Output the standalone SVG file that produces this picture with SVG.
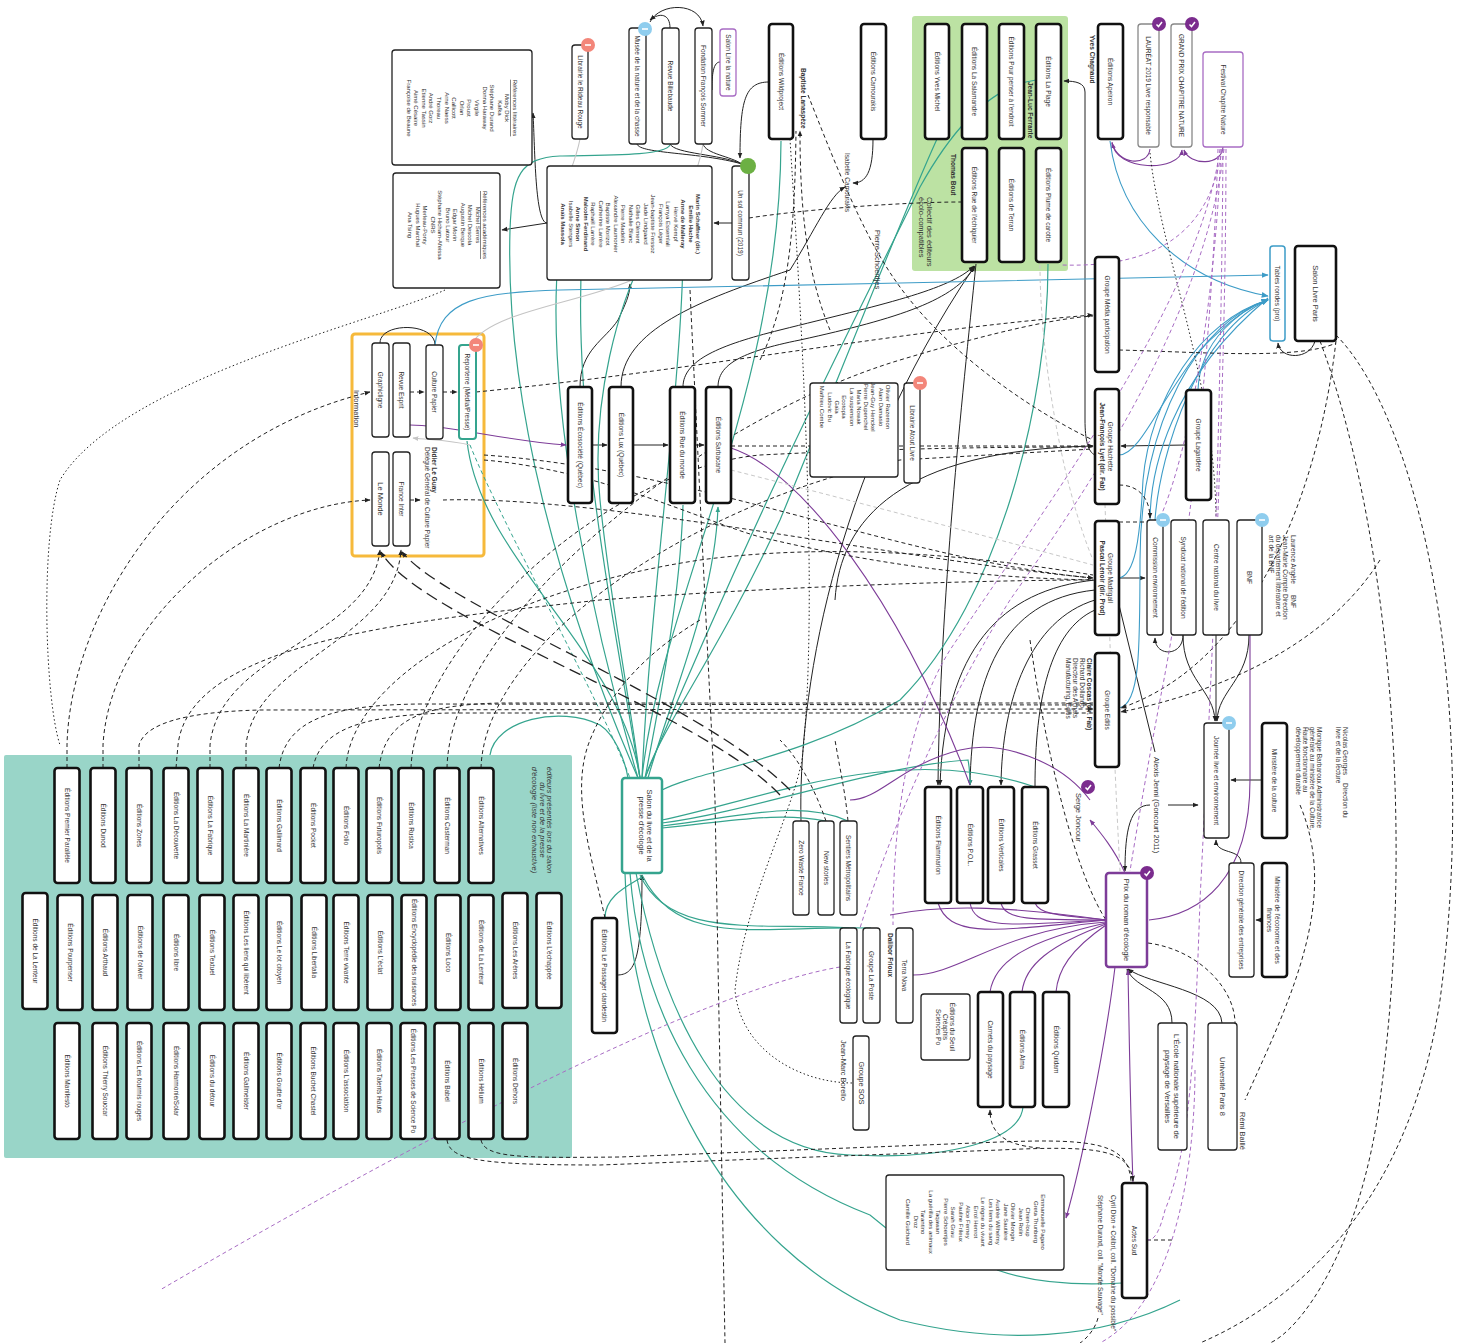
<svg xmlns="http://www.w3.org/2000/svg" xmlns:xlink="http://www.w3.org/1999/xlink" width="1478" height="1343" viewBox="0 0 1478 1343">
<style>
.n{fill:#fff;stroke:#222;stroke-width:1.3}
.k{fill:#fff;stroke:#111;stroke-width:2.6}
.g{fill:#fff;stroke:#888;stroke-width:1.3}
text{font-family:"Liberation Sans",Arial,sans-serif;font-size:6.5px;fill:#333;text-anchor:middle;dominant-baseline:central}
.s{text-anchor:start}
.b{font-weight:bold}
.sm{font-size:6px}
.m{font-size:7.5px}
.c{fill:none;stroke:#222;stroke-width:1}
.d{fill:none;stroke:#222;stroke-width:1;stroke-dasharray:4 3}
.o{fill:none;stroke:#222;stroke-width:1;stroke-dasharray:1.5 2.5}
.L{fill:none;stroke:#222;stroke-width:1.3;stroke-dasharray:12 6}
.t{fill:none;stroke:#35a48e;stroke-width:1.2}
.td{fill:none;stroke:#35a48e;stroke-width:1;stroke-dasharray:4 3}
.p{fill:none;stroke:#7d3c98;stroke-width:1.1}
.pd{fill:none;stroke:#a86cc4;stroke-width:1;stroke-dasharray:4 3}
.bl{fill:none;stroke:#3d9cc7;stroke-width:1.1}
.gr{fill:none;stroke:#c4c4c4;stroke-width:1.1}
.grd{fill:none;stroke:#c8c8c8;stroke-width:1;stroke-dasharray:4 3}
</style>
<defs>
<marker id="ab" viewBox="0 0 10 10" refX="9" refY="5" markerWidth="6" markerHeight="6" markerUnits="userSpaceOnUse" orient="auto"><path d="M0,1 L10,5 L0,9 z" fill="#222"/></marker>
<marker id="at" viewBox="0 0 10 10" refX="9" refY="5" markerWidth="6" markerHeight="6" markerUnits="userSpaceOnUse" orient="auto"><path d="M0,1 L10,5 L0,9 z" fill="#35a48e"/></marker>
<marker id="ap" viewBox="0 0 10 10" refX="9" refY="5" markerWidth="6" markerHeight="6" markerUnits="userSpaceOnUse" orient="auto"><path d="M0,1 L10,5 L0,9 z" fill="#7d3c98"/></marker>
<marker id="abl" viewBox="0 0 10 10" refX="9" refY="5" markerWidth="7" markerHeight="7" markerUnits="userSpaceOnUse" orient="auto"><path d="M0,1 L10,5 L0,9 z" fill="#3d9cc7"/></marker>
<marker id="ag" viewBox="0 0 10 10" refX="9" refY="5" markerWidth="6" markerHeight="6" markerUnits="userSpaceOnUse" orient="auto"><path d="M0,1 L10,5 L0,9 z" fill="#c4c4c4"/></marker>
<g id="bRed"><circle r="7" fill="#f3867a"/><rect x="-3" y="-0.8" width="6" height="1.6" fill="#fff"/></g>
<g id="bBlue"><circle r="7" fill="#8fcdee"/><rect x="-3" y="-0.8" width="6" height="1.6" fill="#fff"/></g>
<g id="bPur"><circle r="7" fill="#7b2c8e"/><path d="M-2.5,0.5 L-0.5,2.5 L3,-2" fill="none" stroke="#fff" stroke-width="1.5"/></g>
</defs>
<rect width="1478" height="1343" fill="#fff"/>

<!-- backgrounds -->
<rect id="bg-collectif" x="912" y="16" width="156" height="255" rx="3" fill="#bce2a3"/>
<rect id="bg-salon" x="4" y="755" width="568" height="403" rx="2" fill="#99d5c8"/>
<rect id="bg-info" x="352" y="334" width="132" height="222" rx="3" fill="none" stroke="#f6b93b" stroke-width="3"/>

<g id="connectors">
<!-- black solid -->
<path class="c" d="M769,82 C745,82 740,100 740,158" marker-end="url(#ab)"/>
<path class="c" d="M637,144 C640,154 700,152 742,164"/>
<path class="c" d="M670,144 C675,154 720,154 742,164"/>
<path class="c" d="M703,144 C706,154 730,156 742,164"/>
<path class="c" d="M650,22 C660,2 700,2 703,26" marker-end="url(#ab)"/>
<path class="c" d="M670,28 C670,14 660,12 650,20" marker-end="url(#ab)"/>
<path class="c" d="M720,62 C712,62 712,80 712,90"/>
<path class="c" d="M732,223 L714,223" marker-end="url(#ab)"/>
<path class="c" d="M547,223 C535,223 535,150 533,113" marker-end="url(#ab)"/>
<path class="c" d="M547,223 L502,230" marker-end="url(#ab)"/>
<path class="c" d="M873,139 C873,172 866,183 853,183" marker-end="url(#ab)"/>
<path class="c" d="M380,343 C380,322 435,322 435,345"/>
<path class="c" d="M580,387 C580,350 605,340 618,320 C625,305 630,295 630,284" marker-end="url(#ab)"/>
<path class="c" d="M621,387 C621,330 700,300 790,270 C815,230 830,195 845,187" marker-end="url(#ab)"/>
<path class="c" d="M683,387 C683,360 720,345 780,330 C880,305 950,290 974,266" marker-end="url(#ab)"/>
<path class="c" d="M718,387 C718,365 740,352 800,340 C900,318 955,300 975,266" marker-end="url(#ab)"/>
<path class="c" d="M801,821 C798,700 830,480 974,267" marker-end="url(#ab)"/>
<path class="c" d="M976,264 C962,400 940,600 938,785" marker-end="url(#ab)"/>
<path class="c" d="M1095,580 C1000,590 945,650 940,785" marker-end="url(#ab)"/>
<path class="c" d="M1095,590 C1000,600 972,680 970,785" marker-end="url(#ab)"/>
<path class="c" d="M1095,600 C1030,620 1002,700 1001,785" marker-end="url(#ab)"/>
<path class="c" d="M1095,610 C1050,630 1035,700 1035,787"/>
<path class="c" d="M835,600 C840,520 900,450 1093,446" marker-end="url(#ab)"/>
<path class="c" d="M1095,455 C1088,452 1085,440 1085,420 L1085,92 C1085,83 1076,81 1064,81" marker-end="url(#ab)"/>
<path class="c" d="M1186,445 L1121,446" marker-end="url(#ab)"/>
<path class="c" d="M1119,578 L1145,578" marker-end="url(#ab)"/>
<path class="c" d="M1183,635 C1183,657 1155,657 1155,638" marker-end="url(#ab)"/>
<path class="c" d="M1183,635 C1183,680 1214,690 1215,721" marker-end="url(#ab)"/>
<path class="c" d="M1216,635 L1216,721" marker-end="url(#ab)"/>
<path class="c" d="M1249,635 C1249,680 1218,690 1217,721" marker-end="url(#ab)"/>
<path class="c" d="M1262,780 L1231,780" marker-end="url(#ab)"/>
<path class="c" d="M1241,863 C1241,848 1216,855 1216,840" marker-end="url(#ab)"/>
<path class="c" d="M1262,920 L1256,920" marker-end="url(#ab)"/>
<path class="c" d="M1119,605 L1155,752"/>
<path class="c" d="M1150,805 C1130,805 1125,830 1125,871" marker-end="url(#ab)"/>
<path class="c" d="M1168,805 L1198,805" marker-end="url(#ab)"/>
<path class="c" d="M1172,1023 C1172,990 1135,990 1127,969" marker-end="url(#ab)"/>
<path class="c" d="M1222,1023 C1220,990 1150,985 1128,969" marker-end="url(#ab)"/>
<path class="c" d="M1315,341 C1310,360 1280,360 1278,343" marker-end="url(#ab)"/>
<path class="c" d="M617,975 C635,975 642,960 642,875" marker-end="url(#ab)"/>
<path class="c" d="M593,445 L607,445" marker-end="url(#ab)"/>
<path class="c" d="M633,445 L668,445" marker-end="url(#ab)"/>
<path class="c" d="M695,445 L704,445" marker-end="url(#ab)"/>
<!-- teal -->
<path class="t" d="M640,778 C620,650 480,560 467,441"/>
<path class="t" d="M642,778 C660,600 780,400 781,141"/>
<path class="t" d="M670,145 C665,155 620,155 560,156 C520,158 512,175 510,230 C505,400 560,600 638,778"/>
<path class="t" d="M683,260 C680,400 650,600 642,778"/>
<path class="t" d="M583,240 C570,400 610,600 640,778"/>
<path class="t" d="M560,240 C540,400 600,650 638,778"/>
<path class="t" d="M647,250 C620,300 590,400 600,500 C610,600 630,700 640,778"/>
<path class="t" d="M1036,80 C1000,85 960,115 920,187 C870,290 760,500 645,778"/>
<path class="t" d="M937,139 C900,220 830,400 780,520 C720,650 660,730 645,778"/>
<path class="t" d="M1048,264 C1048,400 1000,600 900,700 C800,760 700,770 662,790"/>
<path class="t" d="M683,505 C680,600 660,700 645,778"/>
<path class="t" d="M648,778 C670,700 715,600 718,507" marker-end="url(#at)"/>
<path class="t" d="M662,823 C750,812 880,765 968,760 C970,770 970,778 970,785" marker-end="url(#at)"/>
<path class="t" d="M662,826 C750,815 800,800 848,821"/>
<path class="t" d="M662,828 C740,820 780,812 826,821"/>
<path class="t" d="M662,820 C760,800 900,740 1035,787"/>
<path class="t" d="M642,875 C680,950 760,925 871,928"/>
<path class="t" d="M640,875 C670,940 760,922 849,928"/>
<path class="t" d="M605,918 C605,895 630,885 642,877"/>
<path class="t" d="M630,873 C640,1000 700,1150 870,1215 L886,1228"/>
<path class="t" d="M1023,1107 C1020,1140 950,1160 850,1155 C720,1150 660,1000 636,873"/>
<path class="t" d="M997,1270 C1040,1285 1090,1285 1122,1283"/>
<path class="t" d="M625,873 C630,1050 720,1250 900,1320 C1000,1345 1100,1340 1180,1300"/>
<path class="t" d="M490,755 C495,720 560,705 600,725 C615,735 625,760 628,778" stroke-width="3.2"/>
<path class="td" d="M470,445 C500,520 600,700 630,778"/>
<!-- purple -->
<path class="p" d="M410,425 C450,425 500,440 566,445" marker-end="url(#ap)"/>
<path class="p" d="M731,448 C800,470 900,600 970,785"/>
<path class="p" d="M1106,920 C1000,930 950,940 938,903"/>
<path class="p" d="M1106,920 C1010,925 975,930 970,903"/>
<path class="p" d="M1106,920 C1030,920 1005,920 1001,903"/>
<path class="p" d="M1106,920 C1060,915 1040,915 1035,903"/>
<path class="p" d="M1106,920 C1000,905 940,905 890,915"/>
<path class="p" d="M1106,922 C1000,930 960,975 913,975"/>
<path class="p" d="M1106,923 C1030,940 995,960 990,992"/>
<path class="p" d="M1106,924 C1050,945 1025,965 1022,992"/>
<path class="p" d="M1106,925 C1070,950 1058,970 1056,992"/>
<path class="p" d="M1125,873 C1115,850 1100,832 1090,820" marker-end="url(#ap)"/>
<path class="p" d="M1115,967 C1105,1050 1080,1170 1066,1218" marker-end="url(#ap)"/>
<path class="p" d="M1133,1183 C1130,1100 1129,1020 1128,970" marker-end="url(#ap)"/>
<path class="p" d="M1250,635 L1250,780 C1250,880 1200,915 1149,920"/>
<path class="p" d="M1150,149 C1148,167 1118,165 1112,143" marker-end="url(#ap)"/>
<path class="p" d="M1112,142 C1115,172 1180,172 1182,150" marker-end="url(#ap)"/>
<path class="p" d="M1223,147 C1222,166 1190,166 1184,150" marker-end="url(#ap)"/>
<path class="p" d="M1090,800 C1060,760 1000,740 960,750 C900,765 880,800 850,800"/>
<!-- blue -->
<path class="bl" d="M435,345 C440,300 480,292 560,290 L900,283 L1268,275" marker-end="url(#abl)"/>
<path class="bl" d="M1110,141 C1120,220 1180,280 1268,296" marker-end="url(#abl)"/>
<path class="bl" d="M1119,708 C1140,705 1140,650 1140,560 C1140,420 1200,320 1268,300" marker-end="url(#abl)"/>
<path class="bl" d="M1119,578 C1135,575 1140,540 1143,480 C1150,400 1200,320 1268,300" marker-end="url(#abl)"/>
<path class="bl" d="M1119,455 C1140,455 1160,400 1200,350 C1230,320 1250,305 1268,300" marker-end="url(#abl)"/>
<path class="bl" d="M1198,390 C1200,340 1240,310 1268,300" marker-end="url(#abl)"/>
<path class="bl" d="M1155,520 C1160,450 1200,330 1268,300" marker-end="url(#abl)"/>
<path class="bl" d="M1150,522 C1150,470 1170,380 1268,298"/>
<!-- grey -->
<path class="gr" d="M580,139 C575,165 565,180 563,195" marker-end="url(#ag)"/>
<path class="gr" d="M703,144 C700,165 692,180 689,193" marker-end="url(#ag)"/>
<path class="gr" d="M673,247 C650,300 500,300 472,343"/>
<path class="gr" d="M470,445 C450,440 430,440 413,438" marker-end="url(#ag)"/>
<path class="grd" d="M731,470 C850,500 1000,540 1093,565"/>
<path class="grd" d="M1105,504 C1110,650 1115,780 1120,871"/>
<path class="grd" d="M1040,265 C1040,350 1060,480 1093,560"/>
<!-- dashed black -->
<path class="d" d="M731,446 L1093,446" marker-end="url(#ab)"/>
<path class="d" d="M476,392 C700,370 900,330 1093,315" marker-end="url(#ab)"/>
<path class="d" d="M410,392 L424,392" marker-end="url(#ab)"/>
<path class="d" d="M443,392 L457,392" marker-end="url(#ab)"/>
<path class="d" d="M410,500 L420,500" marker-end="url(#ab)"/>
<path class="d" d="M443,500 C600,495 900,560 1093,578" marker-end="url(#ab)"/>
<path class="d" d="M484,455 C700,470 900,560 1093,578"/>
<path class="d" d="M484,460 C600,470 700,520 760,537 C900,570 1000,578 1093,580"/>
<path class="d" d="M67,768 L67,745 C70,620 170,440 370,392" marker-end="url(#ab)"/>
<path class="d" d="M103,768 L103,745 C110,620 250,505 370,500" marker-end="url(#ab)"/>
<path class="d" d="M139,768 L139,745 C145,725 180,712 260,710 L1093,709" marker-end="url(#ab)"/>
<path class="d" d="M176,768 L178,745 C190,640 420,620 600,600 C800,585 1000,580 1093,580"/>
<path class="d" d="M210,768 L210,745 C220,650 370,640 380,550" marker-end="url(#ab)"/>
<path class="d" d="M246,768 L246,745 C255,660 395,640 401,550" marker-end="url(#ab)"/>
<path class="d" d="M279,768 C285,720 330,705 420,704 L1093,705"/>
<path class="d" d="M313,768 C320,730 360,715 450,713 L1093,713"/>
<path class="d" d="M346,768 C350,680 500,590 700,560 C850,540 1000,560 1093,575"/>
<path class="d" d="M379,768 C385,720 420,705 500,703 L1093,703"/>
<path class="d" d="M411,768 C415,650 600,470 760,455 C900,448 1000,447 1093,447"/>
<path class="d" d="M447,768 C450,620 700,420 900,360 C1000,330 1060,318 1093,316"/>
<path class="d" d="M481,768 C485,640 700,500 900,460 L1093,449"/>
<path class="d" d="M749,218 C800,210 900,202 961,202"/>
<path class="d" d="M830,330 C805,270 800,200 800,131" marker-end="url(#ab)"/>
<path class="d" d="M760,360 C790,300 795,220 796,131"/>
<path class="d" d="M808,95 C830,150 860,230 895,280 C950,360 1050,420 1093,440"/>
<path class="d" d="M1336,335 C1420,420 1480,700 1440,1000 C1410,1200 1300,1300 1200,1343"/>
<path class="d" d="M1320,341 C1380,500 1420,800 1380,1100 C1360,1250 1300,1330 1270,1343"/>
<path class="d" d="M1336,341 C1320,480 1260,660 1121,708" marker-end="url(#ab)"/>
<path class="d" d="M1380,560 C1330,640 1230,690 1121,712" marker-end="url(#ab)"/>
<path class="d" d="M1119,350 C1200,352 1300,360 1336,343"/>
<path class="d" d="M1119,485 C1140,485 1150,500 1150,518" marker-end="url(#ab)"/>
<path class="d" d="M1119,522 L1147,522"/>
<path class="d" d="M1300,805 C1340,900 1290,1000 1245,1100"/>
<path class="d" d="M1148,943 C1200,950 1235,990 1235,1023"/>
<path class="d" d="M1030,640 C1050,780 1080,880 1106,920"/>
<path class="d" d="M447,1140 C450,1160 480,1165 600,1165 L1000,1150 C1100,1145 1130,1150 1133,1181" marker-end="url(#ab)"/>
<path class="d" d="M481,1140 C485,1158 520,1158 620,1157 L1000,1142 C1100,1138 1128,1145 1131,1181"/>
<path class="d" d="M1040,1148 C1000,1145 990,1130 990,1110" marker-end="url(#ab)"/>
<path class="d" d="M1147,1240 L1175,1240"/>
<path class="d" d="M1098,1318 C1095,1330 1085,1340 1080,1343"/>
<path class="d" d="M605,918 C590,850 570,790 590,740 C610,690 650,650 700,620"/>
<path class="d" d="M690,290 C700,500 710,700 715,800 L725,1343"/>
<path class="d" d="M826,821 C815,790 800,760 780,740"/>
<path class="d" d="M848,821 C845,790 840,770 835,740"/>
<path class="o" d="M790,139 C800,300 820,600 802,760 C790,820 745,900 735,990 C740,1050 800,1083 853,1083"/>
<path class="o" d="M1150,153 C1160,250 1215,380 1216,518"/>
<path class="o" d="M445,290 C380,320 120,380 60,480 C40,540 45,700 60,745"/>
<path class="L" d="M790,790 C700,700 450,610 402,552" marker-end="url(#ab)"/>
<path class="L" d="M780,795 C700,710 420,620 381,552" marker-end="url(#ab)"/>
<!-- purple dashed -->
<path class="pd" d="M1222,149 C1210,230 1160,268 1062,265"/>
<path class="pd" d="M1220,149 C1200,300 1050,500 950,650 C900,730 893,850 893,925"/>
<path class="pd" d="M1224,149 C1205,320 1080,500 1010,600 C960,680 900,800 860,928"/>
<path class="pd" d="M840,967 C700,990 400,1150 160,1290"/>
<path class="pd" d="M1226,149 C1226,400 1210,700 1200,900 C1195,1050 1190,1150 1165,1210 C1160,1230 1155,1240 1148,1240"/>
<path class="pd" d="M1218,149 C1210,400 1180,600 1160,700 C1145,780 1135,840 1130,871"/>
<path class="pd" d="M1221,149 C1215,300 1190,450 1160,518"/>
<path class="pd" d="M1223,149 C1222,300 1218,450 1216,519"/>
<path class="pd" d="M1195,1070 C1195,1150 1180,1300 1100,1343"/>
</g>

<!-- top nodes -->
<g id="ref-lit"><rect class="n" x="392" y="50" width="140" height="115" rx="3"/>
<text class="sm" transform="translate(515 108) rotate(90)"><tspan x="0" dy="0" text-decoration="underline">Références littéraires</tspan><tspan x="0" dy="7.6">Moby Dick</tspan><tspan x="0" dy="7.6">Kafka</tspan><tspan x="0" dy="7.6">Stéphane Durand</tspan><tspan x="0" dy="7.6">Donna Haraway</tspan><tspan x="0" dy="7.6">Virgile</tspan><tspan x="0" dy="7.6">Proust</tspan><tspan x="0" dy="7.6">Orlan</tspan><tspan x="0" dy="7.6">Callicott</tspan><tspan x="0" dy="7.6">Arne Naess</tspan><tspan x="0" dy="7.6">Thoreau</tspan><tspan x="0" dy="7.6">André Gorz</tspan><tspan x="0" dy="7.6">Etienne Tassin</tspan><tspan x="0" dy="7.6">Aimé Césaire</tspan><tspan x="0" dy="7.6">Françoise de Beaune</tspan></text></g>
<g id="ref-aca"><rect class="n" x="393" y="173" width="107" height="115" rx="3"/>
<text class="sm" transform="translate(485 225) rotate(90)"><tspan x="0" dy="0" text-decoration="underline">Références académiques</tspan><tspan x="0" dy="7.5">Michel Serres</tspan><tspan x="0" dy="7.5">Michel Descola</tspan><tspan x="0" dy="7.5">Augustin Berque</tspan><tspan x="0" dy="7.5">Edgar Morin</tspan><tspan x="0" dy="7.5">Bruno Latour</tspan><tspan x="0" dy="7.5">Stéphane Hicham-Afeissa</tspan><tspan x="0" dy="7.5">CNRS</tspan><tspan x="0" dy="7.5">Merleau-Ponty</tspan><tspan x="0" dy="7.5">Hugues Marchal</tspan><tspan x="0" dy="7.5">Ana Tsing</tspan></text></g>
<g id="rideau"><rect class="n" x="572" y="45" width="16" height="94" rx="3"/><text transform="translate(580 92) rotate(90)">Librairie le Rideau Rouge</text><use xlink:href="#bRed" x="588" y="45"/></g>
<g id="musee"><rect class="n" x="629" y="28" width="17" height="116" rx="3"/><text transform="translate(637.5 86) rotate(90)">Musée de la nature et de la chasse</text><use xlink:href="#bBlue" x="645" y="29"/></g>
<g id="billebaude"><rect class="n" x="662" y="28" width="17" height="116" rx="3"/><text transform="translate(670.5 86) rotate(90)">Revue Billebaude</text></g>
<g id="fondation"><rect class="n" x="695" y="28" width="17" height="116" rx="3"/><text transform="translate(703.5 86) rotate(90)">Fondation François Sommer</text></g>
<g id="salon-lire"><rect x="720" y="29" width="16" height="67" rx="3" fill="#fff" stroke="#a86cc4" stroke-width="1.3"/><text transform="translate(728 62.5) rotate(90)">Salon Lire la nature</text></g>
<g id="wildproject"><rect class="k" x="769" y="24" width="24" height="115" rx="3"/><text transform="translate(781 81.5) rotate(90)">Éditions Wildproject</text></g>
<g id="unsol"><rect class="n" x="732" y="166" width="17" height="114" rx="3"/><text transform="translate(740.5 223) rotate(90)">Un sol commun (2019)</text><circle cx="748" cy="166" r="8" fill="#6cb043"/></g>
<g id="auteurs-sol"><rect class="n" x="547" y="166" width="165" height="114" rx="3"/>
<text class="sm" transform="translate(698 224) rotate(90)"><tspan x="0" dy="0" class="b">Marin Schaffner (dir.)</tspan><tspan x="0" dy="7.5" class="b">Emilie Hache</tspan><tspan x="0" dy="7.5" class="b">Anne de Malleray</tspan><tspan x="0" dy="7.5">Hervé Kempf</tspan><tspan x="0" dy="7.5">Lamya Essemlali</tspan><tspan x="0" dy="7.5">François Léger</tspan><tspan x="0" dy="7.5">Jean-baptiste Fressoz</tspan><tspan x="0" dy="7.5">Jade Lindgaard</tspan><tspan x="0" dy="7.5">Gilles Clément</tspan><tspan x="0" dy="7.5">Nathalie Blanc</tspan><tspan x="0" dy="7.5">Pierre Madelin</tspan><tspan x="0" dy="7.5">Alexandre Laumonier</tspan><tspan x="0" dy="7.5">Baptiste Morizot</tspan><tspan x="0" dy="7.5">Catherine Larrère</tspan><tspan x="0" dy="7.5">Raphaël Larrère</tspan><tspan x="0" dy="7.5" class="b">Malcolm Ferdinand</tspan><tspan x="0" dy="7.5" class="b">Anne Simon</tspan><tspan x="0" dy="7.5">Isabelle Stengers</tspan><tspan x="0" dy="7.5" class="b">Anaïs Massola</tspan></text></g>
<g id="camourakis"><rect class="k" x="861" y="24" width="25" height="115" rx="3"/><text transform="translate(873.5 81.5) rotate(90)">Éditions Camourakis</text></g>
<g id="yves-michel"><rect class="k" x="925" y="24" width="24" height="115" rx="3"/><text transform="translate(937 81.5) rotate(90)">Éditions Yves Michel</text></g>
<g id="salamandre"><rect class="k" x="962" y="24" width="25" height="115" rx="3"/><text transform="translate(974.5 81.5) rotate(90)">Éditions La Salamandre</text></g>
<g id="pour-penser"><rect class="k" x="999" y="24" width="25" height="115" rx="3"/><text transform="translate(1011.5 81.5) rotate(90)">Éditions Pour penser à l'endroit</text></g>
<g id="la-plage"><rect class="k" x="1036" y="24" width="25" height="115" rx="3"/><text transform="translate(1048.5 81.5) rotate(90)">Éditions La Plage</text></g>
<g id="rue-echiquier"><rect class="k" x="962" y="148" width="25" height="114" rx="3"/><text transform="translate(974.5 205) rotate(90)">Éditions Rue de l'échiquier</text></g>
<g id="terran"><rect class="k" x="999" y="148" width="25" height="114" rx="3"/><text transform="translate(1011.5 205) rotate(90)">Éditions de Terran</text></g>
<g id="plume"><rect class="k" x="1036" y="148" width="25" height="114" rx="3"/><text transform="translate(1048.5 205) rotate(90)">Éditions Plume de carotte</text></g>
<g id="apeiron"><rect class="k" x="1098" y="24" width="25" height="115" rx="3"/><text transform="translate(1110.5 81.5) rotate(90)">Éditions Apeiron</text></g>
<g id="laureat"><rect class="g" x="1138" y="24" width="21" height="123" rx="3"/><text transform="translate(1148.5 85.5) rotate(90)">LAURÉAT 2019 Livre responsable</text><use xlink:href="#bPur" x="1159" y="24"/></g>
<g id="grand-prix"><rect class="g" x="1171" y="24" width="21" height="123" rx="3"/><text transform="translate(1181.5 85.5) rotate(90)">GRAND PRIX CHAPITRE NATURE</text><use xlink:href="#bPur" x="1192" y="24"/></g>
<g id="festival"><rect x="1203" y="52" width="40" height="95" rx="3" fill="#fff" stroke="#a86cc4" stroke-width="1.3"/><text transform="translate(1223 99.5) rotate(90)">Festival Chapitre Nature</text></g>
<g id="media-part"><rect class="k" x="1095" y="257" width="24" height="115" rx="3"/><text transform="translate(1107 314.5) rotate(90)">Groupe Média participation</text></g>
<g id="tables-rondes"><rect x="1270" y="246" width="15" height="95" rx="3" fill="#fff" stroke="#3d9cc7" stroke-width="1.5"/><text transform="translate(1277.5 293.5) rotate(90)">Tables rondes (pro)</text></g>
<g id="salon-paris"><rect class="k" x="1295" y="246" width="41" height="95" rx="3"/><text class="m" transform="translate(1315.5 293.5) rotate(90)">Salon Livre Paris</text></g>

<!-- middle nodes -->
<g id="graphicligne"><rect class="n" x="372" y="343" width="17" height="94" rx="3"/><text transform="translate(380.5 390) rotate(90)">Graphicligne</text></g>
<g id="esprit"><rect class="n" x="393" y="343" width="17" height="94" rx="3"/><text transform="translate(401.5 390) rotate(90)">Revue Esprit</text></g>
<g id="culture-papier"><rect class="n" x="426" y="345" width="17" height="94" rx="3"/><text transform="translate(434.5 392) rotate(90)">Culture Papier</text></g>
<g id="reporterre"><rect x="459" y="345" width="17" height="94" rx="3" fill="#fff" stroke="#35a48e" stroke-width="2"/><text transform="translate(467.5 392) rotate(90)">Reporterre (Média/Presse)</text><use xlink:href="#bRed" x="476" y="345"/></g>
<g id="le-monde"><rect class="n" x="372" y="452" width="17" height="94" rx="3"/><text class="m" transform="translate(380.5 499) rotate(90)">Le Monde</text></g>
<g id="france-inter"><rect class="n" x="393" y="452" width="17" height="94" rx="3"/><text transform="translate(401.5 499) rotate(90)">France Inter</text></g>
<g id="ecosociete"><rect class="k" x="568" y="387" width="24" height="116" rx="3"/><text transform="translate(580 445) rotate(90)">Éditions Écosociété (Québec)</text></g>
<g id="lux"><rect class="k" x="609" y="387" width="24" height="116" rx="3"/><text transform="translate(621 445) rotate(90)">Éditions Lux (Québec)</text></g>
<g id="rue-du-monde"><rect class="k" x="670" y="387" width="25" height="116" rx="3"/><text transform="translate(682.5 445) rotate(90)">Éditions Rue du monde</text></g>
<g id="sarbacane"><rect class="k" x="706" y="387" width="25" height="116" rx="3"/><text transform="translate(718.5 445) rotate(90)">Éditions Sarbacane</text></g>
<g id="auteurs-atout"><rect class="n" x="810" y="383" width="88" height="94" rx="3"/>
<text class="sm" transform="translate(888 407) rotate(90)"><tspan x="0" dy="0">Olivier Razemon</tspan><tspan x="0" dy="7.3">Alain Damasio</tspan><tspan x="0" dy="7.3">Jean-Guy Henckel</tspan><tspan x="0" dy="7.3">Pierre Dupenchel</tspan><tspan x="0" dy="7.3">Maria Nowak</tspan><tspan x="0" dy="7.3">La suspension</tspan><tspan x="0" dy="7.3">Ecotopia</tspan><tspan x="0" dy="7.3">Gaïa</tspan><tspan x="0" dy="7.3">Ludovic Bu</tspan><tspan x="0" dy="7.3">Mathieu Combe</tspan></text></g>
<g id="atout"><rect class="n" x="904" y="383" width="16" height="100" rx="3"/><text transform="translate(912 433) rotate(90)">Librairie Atout Livre</text><use xlink:href="#bRed" x="920" y="383"/></g>
<g id="lagardere"><rect class="k" x="1186" y="390" width="25" height="110" rx="3"/><text transform="translate(1198.5 445) rotate(90)">Groupe Lagardère</text></g>
<g id="hachette"><rect class="k" x="1095" y="389" width="24" height="115" rx="3"/><text transform="translate(1111 446.5) rotate(90)"><tspan x="0" dy="0">Groupe Hachette</tspan><tspan x="0" dy="8" class="b">Jean-François Lyet (dir. Fab)</tspan></text></g>
<g id="madrigall"><rect class="k" x="1095" y="521" width="24" height="114" rx="3"/><text transform="translate(1111 578) rotate(90)"><tspan x="0" dy="0">Groupe Madrigall</tspan><tspan x="0" dy="8" class="b">Pascal Lenoir (dir. Prod)</tspan></text></g>
<g id="commission"><rect class="n" x="1147" y="520" width="16" height="115" rx="3"/><text transform="translate(1155 577.5) rotate(90)">Commission environnement</text><use xlink:href="#bBlue" x="1163" y="520"/></g>
<g id="syndicat"><rect class="n" x="1171" y="520" width="25" height="115" rx="3"/><text transform="translate(1183.5 577.5) rotate(90)">Syndicat national de l'édition</text></g>
<g id="cnl"><rect class="n" x="1203" y="520" width="26" height="115" rx="3"/><text transform="translate(1216 577.5) rotate(90)">Centre national du livre</text></g>
<g id="bnf"><rect class="n" x="1237" y="520" width="25" height="115" rx="3"/><text transform="translate(1249.5 577.5) rotate(90)">BNF</text><use xlink:href="#bBlue" x="1262" y="520"/></g>
<g id="editis"><rect class="k" x="1095" y="653" width="24" height="114" rx="3"/><text transform="translate(1107 710) rotate(90)">Groupe Editis</text></g>
<g id="journee"><rect class="n" x="1204" y="723" width="25" height="115" rx="3"/><text transform="translate(1216.5 780.5) rotate(90)">Journée livre et environnement</text><use xlink:href="#bBlue" x="1229" y="723"/></g>
<g id="min-culture"><rect class="k" x="1262" y="723" width="25" height="115" rx="3"/><text transform="translate(1274.5 780.5) rotate(90)">Ministère de la culture</text></g>

<!-- bottom nodes -->
<g id="salon-eco"><rect x="622" y="778" width="40" height="95" rx="3" fill="#fff" stroke="#35a48e" stroke-width="2.5"/><text class="m" transform="translate(650 825.5) rotate(90)"><tspan x="0" dy="0">Salon du livre et de la</tspan><tspan x="0" dy="8.5">presse d'écologie</tspan></text></g>
<g id="passager"><rect class="k" x="592" y="918" width="25" height="115" rx="3"/><text transform="translate(604.5 975.5) rotate(90)">Éditions Le Passager clandestin</text></g>
<g id="zero-waste"><rect class="n" x="793" y="821" width="16" height="94" rx="3"/><text transform="translate(801 868) rotate(90)">Zero Waste France</text></g>
<g id="new-stories"><rect class="n" x="818" y="821" width="16" height="94" rx="3"/><text transform="translate(826 868) rotate(90)">New stories</text></g>
<g id="sentiers"><rect class="n" x="840" y="821" width="17" height="94" rx="3"/><text transform="translate(848.5 868) rotate(90)">Sentiers Métropolitains</text></g>
<g id="fabrique-eco"><rect class="n" x="840" y="928" width="17" height="95" rx="3"/><text transform="translate(848.5 975.5) rotate(90)">La Fabrique écologique</text></g>
<g id="la-poste"><rect class="n" x="863" y="928" width="17" height="95" rx="3"/><text transform="translate(871.5 975.5) rotate(90)">Groupe La Poste</text></g>
<g id="terra-nova"><rect class="n" x="896" y="928" width="17" height="95" rx="3"/><text transform="translate(904.5 975.5) rotate(90)">Terra Nova</text></g>
<g id="sos"><rect class="n" x="853" y="1036" width="16" height="94" rx="3"/><text class="m" transform="translate(861 1083) rotate(90)">Groupe SOS</text></g>
<g id="flammarion"><rect class="k" x="925" y="787" width="26" height="116" rx="3"/><text transform="translate(938 845) rotate(90)">Éditions Flammarion</text></g>
<g id="pol"><rect class="k" x="957" y="787" width="26" height="116" rx="3"/><text transform="translate(970 845) rotate(90)">Éditions P.O.L.</text></g>
<g id="verticales"><rect class="k" x="988" y="787" width="26" height="116" rx="3"/><text transform="translate(1001 845) rotate(90)">Éditions Verticales</text></g>
<g id="grasset"><rect class="k" x="1022" y="787" width="26" height="116" rx="3"/><text transform="translate(1035 845) rotate(90)">Éditions Grasset</text></g>
<g id="prix"><rect x="1106" y="873" width="41" height="94" rx="3" fill="#fff" stroke="#7d3c98" stroke-width="2.5"/><text class="m" transform="translate(1126.5 920) rotate(90)">Prix du roman d'écologie</text><use xlink:href="#bPur" x="1147" y="873"/></g>
<g id="dge"><rect class="n" x="1229" y="863" width="25" height="114" rx="3"/><text transform="translate(1241.5 920) rotate(90)">Direction générale des entreprises</text></g>
<g id="min-eco"><rect class="k" x="1262" y="863" width="25" height="114" rx="3"/><text transform="translate(1278 920) rotate(90)"><tspan x="0" dy="0">Ministère de l'économie et des</tspan><tspan x="0" dy="8">finances</tspan></text></g>
<g id="seuil"><rect class="n" x="921" y="994" width="49" height="66" rx="3"/><text transform="translate(953 1027) rotate(90)"><tspan x="0" dy="0">Éditions du Seuil</tspan><tspan x="0" dy="6.8">Créaphis</tspan><tspan x="0" dy="6.8">Sciences Po</tspan></text></g>
<g id="carnets"><rect class="k" x="978" y="992" width="25" height="115" rx="3"/><text transform="translate(990.5 1049.5) rotate(90)">Carnets du paysage</text></g>
<g id="alma"><rect class="k" x="1010" y="992" width="25" height="115" rx="3"/><text transform="translate(1022.5 1049.5) rotate(90)">Éditions Alma</text></g>
<g id="quidam"><rect class="k" x="1043" y="992" width="26" height="115" rx="3"/><text transform="translate(1056 1049.5) rotate(90)">Éditions Quidam</text></g>
<g id="ensp"><rect class="n" x="1158" y="1023" width="29" height="127" rx="3"/><text class="m" transform="translate(1176.5 1086.5) rotate(90)"><tspan x="0" dy="0">L'École nationale supérieure de</tspan><tspan x="0" dy="8.5">paysage de Versailles</tspan></text></g>
<g id="paris8"><rect class="n" x="1208" y="1023" width="29" height="127" rx="3"/><text class="m" transform="translate(1222.5 1086.5) rotate(90)">Université Paris 8</text></g>
<g id="auteurs-prix"><rect class="n" x="886" y="1175" width="178" height="95" rx="3"/>
<text class="sm" transform="translate(1043 1222) rotate(90)"><tspan x="0" dy="0">Emmanuelle Pagano</tspan><tspan x="0" dy="7.5">Greta Thunberg</tspan><tspan x="0" dy="7.5">Chien-loup</tspan><tspan x="0" dy="7.5">Jean Rolin</tspan><tspan x="0" dy="7.5">Olivier Mongin</tspan><tspan x="0" dy="7.5">Jane Sautière</tspan><tspan x="0" dy="7.5">Audrée Wilhelmy</tspan><tspan x="0" dy="7.5">Les liens du sang</tspan><tspan x="0" dy="7.5">Le règne du vivant</tspan><tspan x="0" dy="7.5">Errol Henrot</tspan><tspan x="0" dy="7.5">Alice Ferney</tspan><tspan x="0" dy="7.5">Pauline Frileux</tspan><tspan x="0" dy="7.5">Sarah Grau</tspan><tspan x="0" dy="7.5">Pierre Schoentjes</tspan><tspan x="0" dy="7.5">Taqawan</tspan><tspan x="0" dy="7.5">La guérilla des animaux</tspan><tspan x="0" dy="7.5">Tarantino</tspan><tspan x="0" dy="7.5">Droz</tspan><tspan x="0" dy="7.5">Camille Guichard</tspan></text></g>
<g id="actes-sud"><rect class="k" x="1122" y="1183" width="25" height="115" rx="3"/><text transform="translate(1134.5 1240.5) rotate(90)">Actes Sud</text></g>

<!-- salon exhibitors -->
<g id="exposants">
<text class="m" transform="translate(550 820) rotate(90)" font-style="italic"><tspan x="0" dy="0">éditeurs présentés lors du salon</tspan><tspan x="0" dy="7.5">du livre et de la presse</tspan><tspan x="0" dy="7.5">d'écologie (liste non exhaustive)</tspan></text>
<g id="e1"><rect class="k" x="54.5" y="768" width="25" height="115" rx="3"/><text transform="translate(67 825.5) rotate(90)">Éditions Premier Parallèle</text></g>
<g id="e2"><rect class="k" x="90.5" y="768" width="25" height="115" rx="3"/><text transform="translate(103 825.5) rotate(90)">Éditions Dunod</text></g>
<g id="e3"><rect class="k" x="126.5" y="768" width="25" height="115" rx="3"/><text transform="translate(139 825.5) rotate(90)">Éditions Zones</text></g>
<g id="e4"><rect class="k" x="163.5" y="768" width="25" height="115" rx="3"/><text transform="translate(176 825.5) rotate(90)">Éditions La Découverte</text></g>
<g id="e5"><rect class="k" x="197.5" y="768" width="25" height="115" rx="3"/><text transform="translate(210 825.5) rotate(90)">Éditions La Fabrique</text></g>
<g id="e6"><rect class="k" x="233.5" y="768" width="25" height="115" rx="3"/><text transform="translate(246 825.5) rotate(90)">Éditions La Martinière</text></g>
<g id="e7"><rect class="k" x="266.5" y="768" width="25" height="115" rx="3"/><text transform="translate(279 825.5) rotate(90)">Éditions Gallimard</text></g>
<g id="e8"><rect class="k" x="300.5" y="768" width="25" height="115" rx="3"/><text transform="translate(313 825.5) rotate(90)">Éditions Pocket</text></g>
<g id="e9"><rect class="k" x="333.5" y="768" width="25" height="115" rx="3"/><text transform="translate(346 825.5) rotate(90)">Éditions Folio</text></g>
<g id="e10"><rect class="k" x="366.5" y="768" width="25" height="115" rx="3"/><text transform="translate(379 825.5) rotate(90)">Éditions Futuropolis</text></g>
<g id="e11"><rect class="k" x="398.5" y="768" width="25" height="115" rx="3"/><text transform="translate(411 825.5) rotate(90)">Éditions Rustica</text></g>
<g id="e12"><rect class="k" x="434.5" y="768" width="25" height="115" rx="3"/><text transform="translate(447 825.5) rotate(90)">Éditions Casterman</text></g>
<g id="e13"><rect class="k" x="468.5" y="768" width="25" height="115" rx="3"/><text transform="translate(481 825.5) rotate(90)">Éditions Alternatives</text></g>
<g id="e14"><rect class="k" x="22.5" y="893" width="25" height="116" rx="3"/><text transform="translate(35 951) rotate(90)">Éditions de La Lenteur</text></g>
<g id="e15"><rect class="k" x="57.5" y="895" width="25" height="115" rx="3"/><text transform="translate(70 952.5) rotate(90)">Éditions Pourpenser</text></g>
<g id="e16"><rect class="k" x="92.5" y="895" width="25" height="115" rx="3"/><text transform="translate(105 952.5) rotate(90)">Éditions Arthaud</text></g>
<g id="e17"><rect class="k" x="127.5" y="895" width="25" height="115" rx="3"/><text transform="translate(140 952.5) rotate(90)">Éditions de l'olivier</text></g>
<g id="e18"><rect class="k" x="163.5" y="895" width="25" height="115" rx="3"/><text transform="translate(176 952.5) rotate(90)">Éditions libre</text></g>
<g id="e19"><rect class="k" x="199.5" y="895" width="25" height="115" rx="3"/><text transform="translate(212 952.5) rotate(90)">Éditions Textuel</text></g>
<g id="e20"><rect class="k" x="233.5" y="895" width="25" height="115" rx="3"/><text transform="translate(246 952.5) rotate(90)">Éditions Les liens qui libèrent</text></g>
<g id="e21"><rect class="k" x="266.5" y="895" width="25" height="115" rx="3"/><text transform="translate(279 952.5) rotate(90)">Éditions Le lot citoyen</text></g>
<g id="e22"><rect class="k" x="301.5" y="895" width="25" height="115" rx="3"/><text transform="translate(314 952.5) rotate(90)">Éditions Libertalia</text></g>
<g id="e23"><rect class="k" x="333.5" y="895" width="25" height="115" rx="3"/><text transform="translate(346 952.5) rotate(90)">Éditions Terre vivante</text></g>
<g id="e24"><rect class="k" x="367.5" y="895" width="25" height="115" rx="3"/><text transform="translate(380 952.5) rotate(90)">Éditions L'éclat</text></g>
<g id="e25"><rect class="k" x="401.5" y="895" width="25" height="115" rx="3"/><text transform="translate(414 952.5) rotate(90)">Éditions Encyclopédie des nuisances</text></g>
<g id="e26"><rect class="k" x="435.5" y="895" width="25" height="115" rx="3"/><text transform="translate(448 952.5) rotate(90)">Éditions Loco</text></g>
<g id="e27"><rect class="k" x="468.5" y="895" width="25" height="115" rx="3"/><text transform="translate(481 952.5) rotate(90)">Éditions de La Lenteur</text></g>
<g id="e28"><rect class="k" x="502.5" y="893" width="25" height="115" rx="3"/><text transform="translate(515 950.5) rotate(90)">Éditions Les Arènes</text></g>
<g id="e29"><rect class="k" x="536.5" y="893" width="25" height="115" rx="3"/><text transform="translate(549 950.5) rotate(90)">Éditions L'échappée</text></g>
<g id="e30"><rect class="k" x="54.5" y="1023" width="25" height="116" rx="3"/><text transform="translate(67 1081) rotate(90)">Éditions Manifesto</text></g>
<g id="e31"><rect class="k" x="92.5" y="1023" width="25" height="116" rx="3"/><text transform="translate(105 1081) rotate(90)">Éditions Thierry Souccar</text></g>
<g id="e32"><rect class="k" x="126.5" y="1023" width="25" height="116" rx="3"/><text transform="translate(139 1081) rotate(90)">Éditions Les fourmis rouges</text></g>
<g id="e33"><rect class="k" x="163.5" y="1023" width="25" height="116" rx="3"/><text transform="translate(176 1081) rotate(90)">Éditions Harmonie/Solar</text></g>
<g id="e34"><rect class="k" x="199.5" y="1023" width="25" height="116" rx="3"/><text transform="translate(212 1081) rotate(90)">Éditions du détour</text></g>
<g id="e35"><rect class="k" x="233.5" y="1023" width="25" height="116" rx="3"/><text transform="translate(246 1081) rotate(90)">Éditions Gallmeister</text></g>
<g id="e36"><rect class="k" x="266.5" y="1023" width="25" height="116" rx="3"/><text transform="translate(279 1081) rotate(90)">Éditions Goutte d'or</text></g>
<g id="e37"><rect class="k" x="300.5" y="1023" width="25" height="116" rx="3"/><text transform="translate(313 1081) rotate(90)">Éditions Buchet Chastel</text></g>
<g id="e38"><rect class="k" x="333.5" y="1023" width="25" height="116" rx="3"/><text transform="translate(346 1081) rotate(90)">Éditions L'association</text></g>
<g id="e39"><rect class="k" x="366.5" y="1023" width="25" height="116" rx="3"/><text transform="translate(379 1081) rotate(90)">Éditions Talents Hauts</text></g>
<g id="e40"><rect class="k" x="400.5" y="1023" width="25" height="116" rx="3"/><text transform="translate(413 1081) rotate(90)">Éditions Les Presses de Science Po</text></g>
<g id="e41"><rect class="k" x="434.5" y="1023" width="25" height="116" rx="3"/><text transform="translate(447 1081) rotate(90)">Éditions Babel</text></g>
<g id="e42"><rect class="k" x="468.5" y="1023" width="25" height="116" rx="3"/><text transform="translate(481 1081) rotate(90)">Éditions Hélium</text></g>
<g id="e43"><rect class="k" x="502.5" y="1023" width="25" height="116" rx="3"/><text transform="translate(515 1081) rotate(90)">Éditions Dehors</text></g>
</g>

<!-- free labels -->
<g id="labels">
<text class="s b" transform="translate(803 68) rotate(90)">Baptiste Lanaspèze</text>
<text class="s" transform="translate(847 153) rotate(90)">Isabelle Camourakis</text>
<text class="s m" transform="translate(877 230) rotate(90)">Pierre Schoentjes</text>
<text class="s b" transform="translate(1030 82) rotate(90)">Jean-Luc Ferrante</text>
<text class="s b" transform="translate(953 154) rotate(90)">Thomas Bout</text>
<text class="s m" transform="translate(930 197) rotate(90)"><tspan x="0" dy="0">Collectif des éditeurs</tspan><tspan x="0" dy="8.5">écolo-compatibles</tspan></text>
<text class="s b" transform="translate(1092 35) rotate(90)">Yves Chagnaud</text>
<text class="s m" transform="translate(356 390) rotate(90)">Information</text>
<text class="s b" transform="translate(434.5 447) rotate(90)">Didier Le Guay</text>
<text class="s" transform="translate(427.5 447) rotate(90)">Délégué Général de Culture Papier</text>
<text class="s" transform="translate(1293 535) rotate(90)">Laurence Angèle</text>
<text class="s" transform="translate(1293 595) rotate(90)">BNF</text>
<text class="s" transform="translate(1286 535) rotate(90)"><tspan x="0" dy="0">Jean-Marie Compte Direction</tspan><tspan x="0" dy="7">du département littérature et</tspan><tspan x="0" dy="7">art de la BNF</tspan></text>
<text class="s" transform="translate(1090 658) rotate(90)"><tspan x="0" dy="0" class="b">Claire Coscas (dir. Fab)</tspan><tspan x="0" dy="7">Richard Dollando</tspan><tspan x="0" dy="7">Directeur des Achats</tspan><tspan x="0" dy="7">Manufacturing, Editis</tspan></text>
<text class="s m" transform="translate(1156 757) rotate(90)">Alexis Jenni (Goncourt 2011)</text>
<text class="s" transform="translate(1345 727) rotate(90)">Nicolas Georges</text>
<text class="s" transform="translate(1345 783) rotate(90)">Direction du</text>
<text class="s" transform="translate(1338 727) rotate(90)">livre et de la lecture</text>
<text class="s" transform="translate(1320 727) rotate(90)"><tspan x="0" dy="0">Monique Barbaroux Administratrice</tspan><tspan x="0" dy="7">générale au ministère de la Culture,</tspan><tspan x="0" dy="7">Haute fonctionnaire au</tspan><tspan x="0" dy="7">développement durable</tspan></text>
<text class="s m" transform="translate(1078 793) rotate(90)">Serge Joncour</text>
<use xlink:href="#bPur" x="1088" y="787"/>
<text class="s b" transform="translate(890 933) rotate(90)">Dalibor Frioux</text>
<text class="s m" transform="translate(843 1040) rotate(90)">Jean-Marc Borello</text>
<text class="s m" transform="translate(1242 1112) rotate(90)">Rémi Baillé</text>
<text class="s" transform="translate(1113 1195) rotate(90)">Cyril Dion + Colibri, coll. "Domaine du possible"</text>
<text class="s" transform="translate(1100 1195) rotate(90)">Stéphane Durand, coll. "Monde Sauvage"</text>
</g>
</svg>
